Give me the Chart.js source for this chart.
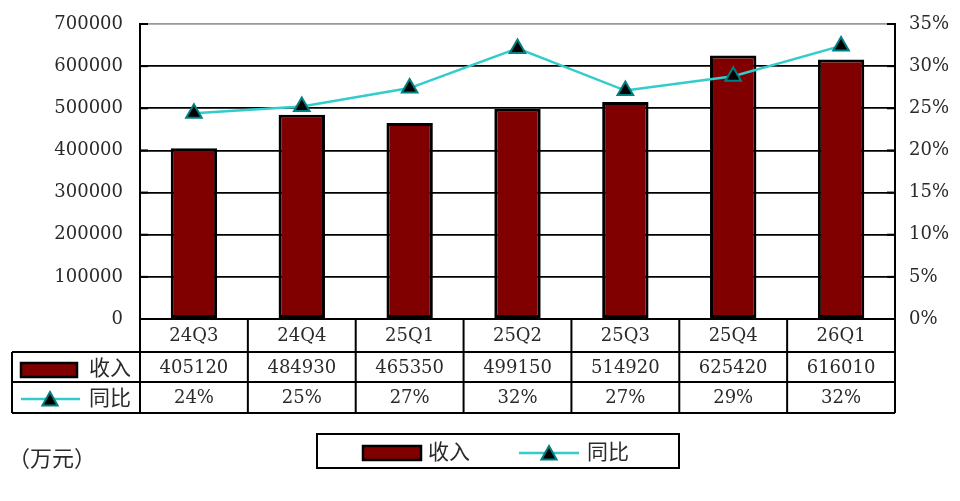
<!DOCTYPE html>
<html>
<head>
<meta charset="utf-8">
<script src="https://cdn.jsdelivr.net/npm/chart.js@4/dist/chart.umd.min.js"></script>
<style>
  html, body { margin: 0; padding: 0; background: #fff; }
  #wrap { width: 960px; height: 501px; position: relative; }
</style>
</head>
<body>
<div id="wrap"><canvas id="c" width="960" height="501"></canvas></div>
<script>
const categories = ['24Q3', '24Q4', '25Q1', '25Q2', '25Q3', '25Q4', '26Q1'];
const revenue = [405120, 484930, 465350, 499150, 514920, 625420, 616010];
const yoy = [24.4, 25.2, 27.4, 32.1, 27.1, 28.8, 32.4];
const yoyLabels = ['24%', '25%', '27%', '32%', '27%', '29%', '32%'];
const revenueLabel = '收入';
const yoyLabel = '同比';
const unitLabel = '（万元）';

const BAR_FILL = '#800000';
const LINE_COLOR = '#33CCCC';
const MARK_BORDER = '#008080';
const NUM_FONT = '18px "DejaVu Serif"';
const CJK_FONT = '21px "Noto Sans CJK SC"';
const TEXT_COLOR = '#2a2a2a';

function tri(ctx, x, y, r) {
  ctx.save();
  ctx.beginPath();
  ctx.moveTo(x, y - r);
  ctx.lineTo(x + r * 0.95, y + r * 0.7);
  ctx.lineTo(x - r * 0.95, y + r * 0.7);
  ctx.closePath();
  ctx.fillStyle = '#000';
  ctx.fill();
  ctx.lineWidth = 2;
  ctx.strokeStyle = MARK_BORDER;
  ctx.stroke();
  ctx.restore();
}

const tablePlugin = {
  id: 'tablePlugin',
  afterDraw(chart) {
    const ctx = chart.ctx;
    const x = chart.scales.x;
    const y = chart.scales.y;
    const y1 = chart.scales.y1;
    const area = chart.chartArea;
    const n = categories.length;
    const cw = (area.right - area.left) / n;
    const r0 = area.bottom, r1 = r0 + 33, r2 = r1 + 30, r3 = r2 + 31;
    const tableLeft = 12;

    ctx.save();
    // inner tick stubs
    ctx.strokeStyle = '#000';
    ctx.lineWidth = 2;
    y.ticks.forEach(t => {
      const py = y.getPixelForValue(t.value);
      ctx.beginPath(); ctx.moveTo(area.left, py); ctx.lineTo(area.left + 8, py); ctx.stroke();
    });
    y1.ticks.forEach(t => {
      const py = y1.getPixelForValue(t.value);
      ctx.beginPath(); ctx.moveTo(area.right - 8, py); ctx.lineTo(area.right, py); ctx.stroke();
    });

    // table lines
    ctx.lineWidth = 2;
    ctx.strokeStyle = '#000';
    ctx.beginPath();
    ctx.moveTo(area.left, r0); ctx.lineTo(area.right, r0);
    [r1, r2, r3].forEach(r => { ctx.moveTo(tableLeft, r); ctx.lineTo(area.right, r); });
    ctx.moveTo(tableLeft, r1); ctx.lineTo(tableLeft, r3);
    for (let i = 0; i <= n; i++) {
      const px = area.left + i * cw;
      ctx.moveTo(px, r0); ctx.lineTo(px, r3);
    }
    ctx.stroke();

    // texts
    ctx.fillStyle = TEXT_COLOR;
    ctx.textAlign = 'center';
    ctx.textBaseline = 'middle';
    ctx.font = NUM_FONT;
    categories.forEach((c, i) => {
      const px = x.getPixelForValue(i);
      ctx.fillText(c, px, (r0 + r1) / 2 + 1);
      ctx.fillText(String(revenue[i]), px, (r1 + r2) / 2 + 1);
      ctx.fillText(yoyLabels[i], px, (r2 + r3) / 2 + 1);
    });

    // row headers
    ctx.fillStyle = BAR_FILL;
    ctx.fillRect(21, 363, 56, 14);
    ctx.lineWidth = 2.5; ctx.strokeStyle = '#000';
    ctx.strokeRect(21, 363, 56, 14);
    ctx.strokeStyle = LINE_COLOR; ctx.lineWidth = 2.5;
    ctx.beginPath(); ctx.moveTo(21, 399); ctx.lineTo(80, 399); ctx.stroke();
    tri(ctx, 50, 400, 8);
    ctx.fillStyle = TEXT_COLOR;
    ctx.font = CJK_FONT;
    ctx.textAlign = 'left';
    ctx.fillText(revenueLabel, 89, 367);
    ctx.fillText(yoyLabel, 89, 397);

    // unit
    ctx.font = '22px "Noto Sans CJK SC"';
    ctx.fillText(unitLabel, 8, 458);

    // legend box
    ctx.lineWidth = 2; ctx.strokeStyle = '#000';
    ctx.strokeRect(317, 434, 362, 34);
    ctx.fillStyle = BAR_FILL;
    ctx.fillRect(363, 446, 58, 14);
    ctx.lineWidth = 2.5;
    ctx.strokeRect(363, 446, 58, 14);
    ctx.strokeStyle = LINE_COLOR; ctx.lineWidth = 2.5;
    ctx.beginPath(); ctx.moveTo(519, 453); ctx.lineTo(579, 453); ctx.stroke();
    tri(ctx, 549, 454, 8);
    ctx.fillStyle = TEXT_COLOR;
    ctx.font = CJK_FONT;
    ctx.fillText(revenueLabel, 428, 451);
    ctx.fillText(yoyLabel, 587, 451);
    ctx.restore();
  }
};

function fixPad(s, w) {
  s.width = w;
  s.paddingTop = 0;
  s.paddingBottom = 0;
}

new Chart(document.getElementById('c'), {
  data: {
    labels: categories,
    datasets: [
      {
        type: 'line',
        label: yoyLabel,
        data: yoy,
        yAxisID: 'y1',
        borderColor: LINE_COLOR,
        borderWidth: 2.5,
        pointStyle: 'triangle',
        pointRadius: 9,
        pointBackgroundColor: '#000',
        pointBorderColor: MARK_BORDER,
        pointBorderWidth: 2,
        tension: 0,
        order: 0
      },
      {
        type: 'bar',
        label: revenueLabel,
        data: revenue,
        yAxisID: 'y',
        backgroundColor: BAR_FILL,
        borderColor: '#000',
        borderWidth: 3,
        borderSkipped: false,
        categoryPercentage: 1,
        barPercentage: 0.43,
        order: 1
      }
    ]
  },
  options: {
    responsive: false,
    animation: false,
    layout: { padding: { top: 24, bottom: 182, left: 0, right: 0 } },
    plugins: { legend: { display: false }, tooltip: { enabled: false } },
    scales: {
      x: { display: false, offset: true },
      y: {
        position: 'left',
        min: 0, max: 700000,
        ticks: { stepSize: 100000, padding: 17, color: TEXT_COLOR, font: { family: 'DejaVu Serif', size: 18 }, callback: v => String(v) },
        grid: {
          drawTicks: false,
          lineWidth: 1.8,
          color: (c) => (c.tick && c.tick.value === 700000) ? '#999' : '#000'
        },
        border: { display: true, color: '#000', width: 2 },
        afterFit(s) { fixPad(s, 140); }
      },
      y1: {
        position: 'right',
        min: 0, max: 35,
        ticks: { stepSize: 5, padding: 14, color: TEXT_COLOR, font: { family: 'DejaVu Serif', size: 18 }, callback: v => v + '%' },
        grid: { display: false, drawTicks: false },
        border: { display: true, color: '#000', width: 2 },
        afterFit(s) { fixPad(s, 65); }
      }
    }
  },
  plugins: [tablePlugin]
});
</script>
</body>
</html>
